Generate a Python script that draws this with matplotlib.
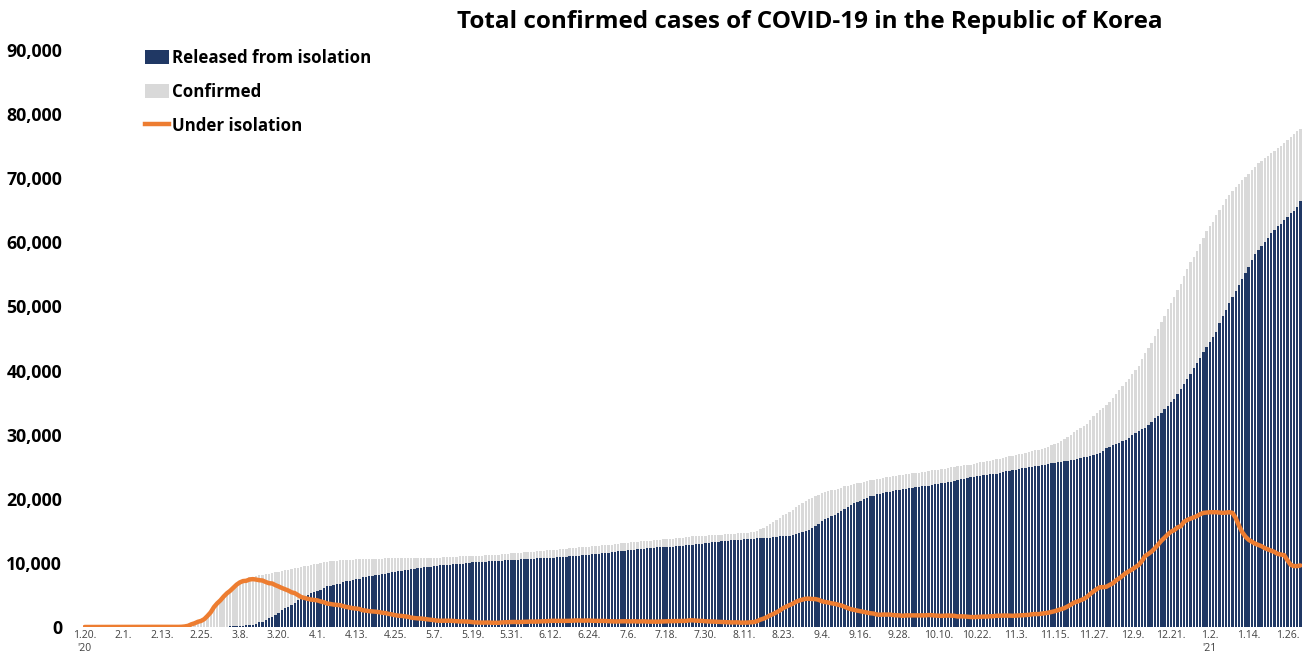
import numpy as np
import matplotlib.pyplot as plt
from matplotlib.patches import Patch
from matplotlib.lines import Line2D
from matplotlib.ticker import FuncFormatter

# daily values, 2020-01-20 .. 2021-01-30
confirmed = [
    # Jan 20-31
    1, 1, 1, 1, 2, 2, 4, 4, 4, 4, 6, 11,
    # Feb
    12, 15, 15, 16, 19, 23, 24, 24, 27, 27, 28, 28, 28, 28, 28, 29, 30, 31, 46, 104,
    204, 433, 602, 833, 977, 1261, 1766, 2337, 3150,
    # Mar
    3736, 4212, 4812, 5328, 5766, 6284, 6767, 7134, 7382, 7513, 7755, 7869, 7979, 8086, 8162, 8236,
    8320, 8413, 8565, 8652, 8799, 8897, 8961, 9037, 9137, 9241, 9332, 9478, 9583, 9661, 9786,
    # Apr
    9887, 9976, 10062, 10156, 10237, 10284, 10331, 10384, 10423, 10450, 10480, 10512, 10537, 10564, 10591,
    10613, 10635, 10653, 10661, 10674, 10683, 10694, 10702, 10708, 10718, 10728, 10738, 10752, 10761, 10765,
    # May
    10774, 10780, 10793, 10801, 10804, 10806, 10810, 10822, 10840, 10874, 10909, 10936, 10962, 10991, 11018, 11037,
    11050, 11065, 11078, 11110, 11122, 11142, 11165, 11190, 11206, 11225, 11265, 11344, 11402, 11441, 11468,
    # Jun
    11503, 11541, 11590, 11629, 11668, 11719, 11776, 11814, 11852, 11902, 11947, 12003, 12051, 12085, 12121,
    12155, 12198, 12257, 12306, 12373, 12421, 12438, 12484, 12535, 12563, 12602, 12653, 12715, 12757, 12800,
    # Jul
    12850, 12904, 12967, 13030, 13091, 13137, 13181, 13244, 13293, 13338, 13373, 13417, 13479, 13512, 13551, 13612,
    13672, 13711, 13745, 13771, 13816, 13879, 13938, 13979, 14092, 14150, 14175, 14203, 14251, 14269, 14305,
    # Aug
    14336, 14366, 14389, 14423, 14456, 14499, 14519, 14562, 14598, 14626, 14660, 14714, 14770, 14873, 15039, 15318,
    15515, 15761, 16058, 16346, 16670, 17002, 17399, 17665, 17945, 18265, 18706, 19077, 19400, 19699, 19947,
    # Sep
    20182, 20449, 20644, 20842, 21010, 21177, 21296, 21432, 21588, 21743, 21919, 22055, 22176, 22285, 22391,
    22504, 22657, 22783, 22893, 22975, 23045, 23106, 23216, 23341, 23455, 23516, 23611, 23661, 23699, 23812,
    # Oct
    23889, 23952, 24027, 24091, 24164, 24239, 24353, 24422, 24476, 24548, 24606, 24703, 24805, 24889, 24988, 25035,
    25108, 25199, 25275, 25333, 25424, 25543, 25698, 25775, 25836, 25955, 26043, 26146, 26271, 26385, 26511,
    # Nov
    26635, 26732, 26807, 26925, 27050, 27195, 27284, 27427, 27553, 27653, 27799, 27942, 28133, 28338, 28546,
    28769, 28998, 29311, 29654, 30017, 30403, 30733, 31004, 31353, 31735, 32318, 32887, 33375, 33824, 34201,
    # Dec
    34652, 35163, 35703, 36332, 36915, 37546, 38161, 38755, 39432, 40098, 40786, 41736, 42766, 43484, 44364, 45442,
    46453, 47515, 48570, 49665, 50591, 51460, 52550, 53533, 54770, 55902, 56872, 57680, 58725, 59773, 60740,
    # Jan 1-30 2021
    61769, 62593, 63244, 64264, 64979, 65818, 66686, 67358, 68039, 68664, 69114, 69651, 70212, 70728, 71241,
    71820, 72340, 72729, 73115, 73518, 73918, 74262, 74692, 75084, 75521, 75949, 76429, 76926, 77395, 77600,
]

released = [
    # Jan 20-31
    0, 0, 0, 0, 0, 0, 0, 0, 0, 0, 0, 0,
    # Feb
    0, 0, 0, 0, 1, 2, 2, 2, 3, 4, 4, 7, 7, 7, 9, 9, 10, 12, 12, 16, 16, 16, 18, 18, 22, 22, 24, 27, 28,
    # Mar
    30, 30, 34, 41, 88, 108, 118, 130, 166, 247, 288, 333, 510, 714, 834, 1137,
    1407, 1540, 1947, 2233, 2612, 2909, 3166, 3507, 3730, 4144, 4528, 4811, 5033, 5228, 5408,
    # Apr
    5567, 5828, 6021, 6325, 6463, 6598, 6694, 6776, 6973, 7117, 7243, 7368, 7447, 7534, 7757,
    7829, 7937, 7987, 8042, 8114, 8213, 8277, 8411, 8501, 8635, 8717, 8764, 8854, 8922, 9059,
    # May
    9123, 9183, 9217, 9283, 9333, 9419, 9484, 9568, 9610, 9632, 9670, 9695, 9762, 9821, 9888, 9904,
    9938, 9977, 10066, 10135, 10162, 10194, 10213, 10226, 10275, 10295, 10340, 10363, 10398, 10405, 10422,
    # Jun
    10446, 10506, 10531, 10552, 10564, 10599, 10669, 10691, 10718, 10729, 10760, 10774, 10802, 10856, 10881,
    10930, 10970, 11017, 11037, 11078, 11125, 11172, 11209, 11237, 11317, 11364, 11422, 11476, 11537, 11613,
    # Jul
    11684, 11759, 11811, 11848, 11914, 11970, 12020, 12065, 12144, 12182, 12204, 12282, 12348, 12396, 12431, 12464,
    12504, 12527, 12537, 12556, 12589, 12626, 12674, 12729, 12759, 12812, 12883, 12929, 13007, 13075, 13132,
    # Aug
    13183, 13233, 13280, 13352, 13405, 13451, 13500, 13543, 13570, 13642, 13669, 13714, 13730, 13799, 13817, 13863,
    13901, 13917, 13934, 14006, 14063, 14120, 14150, 14174, 14219, 14325, 14461, 14631, 14799, 14973, 15198,
    # Sep
    15494, 15769, 16072, 16497, 16776, 17023, 17262, 17478, 17751, 18037, 18396, 18745, 19042, 19265, 19470,
    19682, 19934, 20158, 20366, 20494, 20715, 20811, 20883, 21016, 21121, 21247, 21385, 21447, 21546, 21590,
    # Oct
    21666, 21727, 21799, 21865, 21932, 22004, 22066, 22153, 22263, 22352, 22438, 22500, 22579, 22681, 22803, 22959,
    23007, 23113, 23224, 23334, 23429, 23514, 23619, 23693, 23753, 23830, 23897, 23939, 24045, 24140, 24267,
    # Nov
    24395, 24510, 24560, 24647, 24742, 24848, 24910, 24970, 25048, 25154, 25230, 25304, 25419, 25512, 25592,
    25660, 25752, 25873, 25951, 26038, 26098, 26263, 26325, 26463, 26517, 26650, 26825, 26950, 27103, 27460,
    # Dec
    27851, 28065, 28352, 28509, 28769, 28998, 29202, 29499, 29879, 30200, 30529, 30851, 31101, 31493, 31986, 32559,
    32947, 33415, 33971, 34541, 35020, 35624, 36276, 37070, 37871, 38688, 39521, 40327, 41236, 42006, 42953,
    # Jan 1-30 2021
    43613, 44401, 45163, 46011, 47474, 48485, 49449, 50461, 51448, 52399, 53374, 54330, 55268, 56225, 57269,
    58213, 58838, 59387, 60074, 60737, 61434, 61974, 62509, 62899, 63426, 63943, 64512, 64862, 65545, 66500,
]

under_isolation = [
    # Jan 20-31
    1, 1, 1, 1, 2, 2, 4, 4, 4, 4, 6, 11,
    # Feb
    12, 15, 15, 16, 18, 21, 22, 22, 24, 23, 24, 21, 21, 21, 19, 20, 20, 19, 34, 87,
    186, 415, 578, 807, 945, 1227, 1729, 2294, 3105,
    # Mar
    3689, 4160, 4750, 5255, 5643, 6134, 6605, 6954, 7165, 7212, 7407, 7470, 7402, 7300, 7253, 7024,
    6832, 6789, 6527, 6325, 6085, 5884, 5684, 5410, 5281, 4966, 4665, 4523, 4398, 4275, 4216,
    # Apr
    4155, 3979, 3867, 3654, 3591, 3500, 3445, 3408, 3246, 3125, 3026, 2930, 2873, 2808, 2609,
    2555, 2468, 2434, 2385, 2324, 2233, 2179, 2051, 1967, 1843, 1769, 1731, 1654, 1593, 1459,
    # May
    1401, 1347, 1326, 1266, 1217, 1132, 1070, 998, 974, 986, 983, 983, 941, 910, 870, 871,
    850, 825, 749, 711, 696, 684, 686, 698, 664, 661, 656, 712, 735, 767, 776,
    # Jun
    786, 763, 786, 804, 831, 847, 834, 850, 858, 897, 911, 952, 972, 952, 963,
    947, 949, 960, 989, 1015, 1016, 986, 994, 1017, 964, 956, 949, 957, 938, 905,
    # Jul
    884, 863, 874, 899, 894, 883, 876, 894, 862, 868, 881, 846, 842, 827, 831, 856,
    875, 890, 913, 919, 931, 956, 967, 952, 1035, 1040, 993, 974, 944, 894, 872,
    # Aug
    852, 832, 808, 770, 749, 746, 717, 716, 724, 680, 686, 695, 735, 769, 917, 1150,
    1309, 1538, 1818, 2033, 2298, 2573, 2940, 3181, 3416, 3628, 3932, 4130, 4280, 4403, 4425,
    # Sep
    4364, 4354, 4243, 4014, 3900, 3818, 3693, 3613, 3493, 3356, 3168, 2952, 2776, 2657, 2554,
    2450, 2346, 2248, 2147, 2097, 1942, 1907, 1944, 1932, 1939, 1868, 1825, 1812, 1747, 1809,
    # Oct
    1808, 1808, 1808, 1804, 1810, 1811, 1863, 1844, 1786, 1768, 1738, 1771, 1792, 1774, 1749, 1638,
    1662, 1645, 1609, 1555, 1548, 1579, 1626, 1627, 1626, 1667, 1686, 1746, 1763, 1781, 1778,
    # Nov
    1772, 1750, 1773, 1802, 1831, 1869, 1896, 1977, 2025, 2015, 2082, 2151, 2226, 2336, 2462,
    2616, 2752, 2942, 3205, 3479, 3804, 3967, 4170, 4377, 4703, 5152, 5542, 5903, 6198, 6215,
    # Dec
    6275, 6569, 6815, 7283, 7597, 7996, 8407, 8701, 8997, 9334, 9685, 10307, 11085, 11404, 11778, 12271,
    12872, 13455, 13940, 14450, 14873, 15114, 15535, 15707, 16400, 16700, 16900, 17100, 17300, 17600, 17800,
    # Jan 1-30 2021
    17850, 17900, 17900, 17900, 17850, 17800, 17850, 17900, 17800, 17000, 15800, 14800, 14100, 13600, 13300,
    13000, 12800, 12600, 12300, 12100, 11900, 11700, 11400, 11300, 11200, 10400, 9700, 9500, 9500, 9600,
]

tick_labels = ["1.20.\n'20", "2.1.", "2.13.", "2.25.", "3.8.", "3.20.", "4.1.", "4.13.", "4.25.",
               "5.7.", "5.19.", "5.31.", "6.12.", "6.24.", "7.6.", "7.18.", "7.30.", "8.11.",
               "8.23.", "9.4.", "9.16.", "9.28.", "10.10.", "10.22.", "11.3.", "11.15.", "11.27.",
               "12.9.", "12.21.", "1.2.\n'21", "1.14.", "1.26."]

NAVY = '#203864'
GRAY = '#d9d9d9'
ORANGE = '#ed7d31'

plt.rcParams['font.family'] = ['Open Sans', 'DejaVu Sans']

x = np.arange(len(confirmed))

fig = plt.figure(figsize=(13.1, 6.6), dpi=100)
ax = fig.add_axes([83 / 1310, 33 / 660, 1219 / 1310, 577 / 660])

ax.bar(x, confirmed, width=0.72, color=GRAY, linewidth=0, zorder=1)
ax.bar(x, released, width=0.72, color=NAVY, linewidth=0, zorder=2)
ax.plot(x, under_isolation, color=ORANGE, linewidth=3.2, zorder=3, solid_capstyle='round')

ax.set_xlim(-0.5, len(confirmed) - 0.5)
ax.set_ylim(0, 90000)
ax.set_yticks(np.arange(0, 90001, 10000))
ax.yaxis.set_major_formatter(FuncFormatter(lambda v, p: f'{int(v):,}'))
ax.set_xticks(np.arange(0, len(confirmed), 12))
ax.set_xticklabels(tick_labels, fontsize=7.5, color='#404040', linespacing=1.3,
                   va='top')
for lab in ax.get_xticklabels():
    lab.set_horizontalalignment('center')
ax.tick_params(axis='x', length=0, pad=2)
ax.tick_params(axis='y', length=0, pad=15, labelsize=12.8)
for lab in ax.get_yticklabels():
    lab.set_fontweight('bold')
for s in ax.spines.values():
    s.set_visible(False)

fig.text(0.618, 0.967, 'Total confirmed cases of COVID-19 in the Republic of Korea',
         ha='center', va='center', fontsize=17.5, fontweight='bold')

handles = [Patch(facecolor=NAVY, edgecolor='none'),
           Patch(facecolor=GRAY, edgecolor='none'),
           Line2D([0], [0], color=ORANGE, linewidth=3.2)]
leg = ax.legend(handles, ['Released from isolation', 'Confirmed', 'Under isolation'],
                loc='upper left', bbox_to_anchor=(0.0455, 1.014), frameon=False,
                prop={'weight': 'bold', 'size': 12.2}, handlelength=1.4, handleheight=0.9,
                handletextpad=0.2, labelspacing=0.95, borderaxespad=0)

fig.savefig('out.png', dpi=100)
